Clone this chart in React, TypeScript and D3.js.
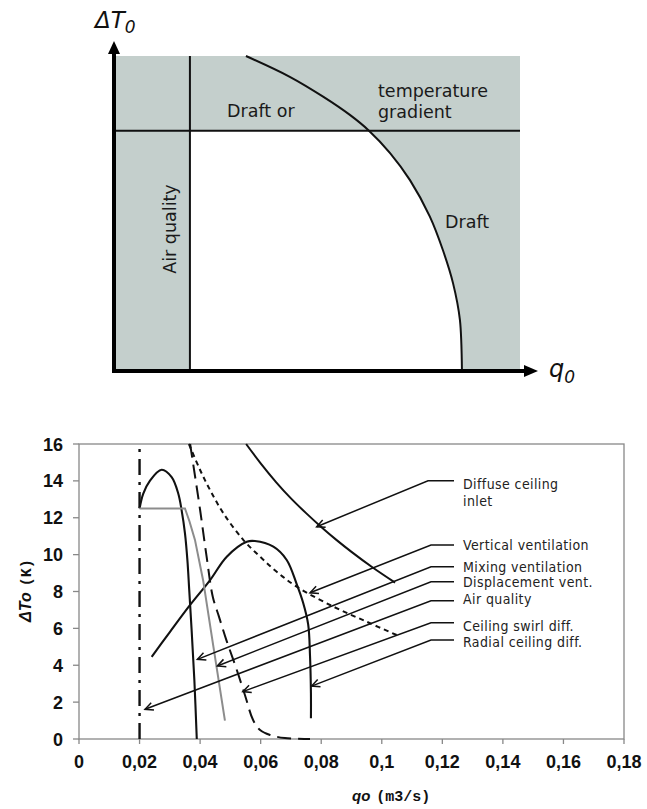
import React from "react";
import * as d3 from "d3";

// ---------- Top schematic (normalised units) ----------
const schemCurveQ = [0.325, 0.433, 0.515, 0.581, 0.628, 0.68, 0.729, 0.778, 0.81, 0.835, 0.852, 0.857];
const schemCurveT = [1.0, 0.934, 0.871, 0.813, 0.763, 0.692, 0.606, 0.49, 0.384, 0.279, 0.162, 0.0];
const schemAirQualityQ = 0.187;
const schemGradientT = 0.763;

// ---------- Bottom chart ----------
const xTicks = [0, 0.02, 0.04, 0.06, 0.08, 0.1, 0.12, 0.14, 0.16, 0.18];
const xTickLabels = ["0", "0,02", "0,04", "0,06", "0,08", "0,1", "0,12", "0,14", "0,16", "0,18"];
const yTicks = [0, 2, 4, 6, 8, 10, 12, 14, 16];

const airQualityQ = [0.02, 0.02];
const airQualityT = [0, 16];

const mixingQ = [0.02, 0.0212, 0.0234, 0.0273, 0.0306, 0.0328, 0.0339, 0.035, 0.0358, 0.0364, 0.0372, 0.0381, 0.0389];
const mixingT = [12.5, 13.3, 14.0, 14.6, 14.2, 13.3, 12.4, 11.15, 9.7, 8.1, 5.9, 3.2, 0];

const displacementQ = [0.02, 0.035, 0.0365, 0.0383, 0.041, 0.0444, 0.0482];
const displacementT = [12.5, 12.5, 11.8, 10.8, 8.6, 5.0, 1.0];

const swirlQ = [0.0367, 0.04, 0.0423, 0.0442, 0.0462, 0.0487, 0.0518, 0.0548, 0.0575, 0.0598, 0.0631, 0.068, 0.0763];
const swirlT = [16.0, 12.42, 9.71, 7.7, 6.65, 5.35, 3.9, 2.39, 1.03, 0.49, 0.22, 0.05, 0];

const verticalQ = [0.0363, 0.04, 0.0433, 0.0477, 0.0543, 0.0598, 0.0653, 0.0719, 0.084, 0.095, 0.1049];
const verticalT = [16.0, 14.59, 13.5, 12.24, 10.79, 9.89, 9.07, 8.26, 7.18, 6.36, 5.64];

const diffuseQ = [0.0552, 0.06, 0.065, 0.07, 0.075, 0.08, 0.085, 0.09, 0.097, 0.1044];
const diffuseT = [16.0, 14.95, 13.95, 13.05, 12.25, 11.5, 10.8, 10.15, 9.3, 8.48];

const radialQ = [0.024, 0.03, 0.0367, 0.0433, 0.0488, 0.0554, 0.0581, 0.0642, 0.0686, 0.0719, 0.074, 0.0757, 0.0763, 0.0766, 0.0766];
const radialT = [4.46, 5.8, 7.27, 8.62, 9.89, 10.7, 10.74, 10.43, 9.71, 8.4, 7.4, 6.2, 4.5, 2.5, 1.12];

// annotation labels and the (q, ΔT) points their arrows point at
const annotLabels = [
  ["Diffuse ceiling", "inlet"],
  ["Vertical ventilation"],
  ["Mixing ventilation"],
  ["Displacement vent."],
  ["Air quality"],
  ["Ceiling swirl diff."],
  ["Radial ceiling diff."],
];
const annotTargetQ = [0.0785, 0.0763, 0.0391, 0.0457, 0.0218, 0.0541, 0.0768];
const annotTargetT = [11.51, 7.93, 4.32, 3.96, 1.61, 2.57, 2.87];

// layout of the annotation column (pixels)
const annotElbowY = [480.7, 545, 566.7, 581.7, 600.7, 622.7, 640];
const annotTextY = [489.3, 550, 571.7, 587.3, 604, 631, 647.3];

const W = 647;
const H = 809;

function chevron(tip: [number, number], from: [number, number], len = 9, ang = 0.45) {
  const a = Math.atan2(from[1] - tip[1], from[0] - tip[0]);
  const p1 = [tip[0] + len * Math.cos(a + ang), tip[1] + len * Math.sin(a + ang)];
  const p2 = [tip[0] + len * Math.cos(a - ang), tip[1] + len * Math.sin(a - ang)];
  return `M${p1[0]},${p1[1]}L${tip[0]},${tip[1]}L${p2[0]},${p2[1]}`;
}

export default function App() {
  // top scales
  const tx = d3.scaleLinear().domain([0, 1]).range([114, 520]);
  const ty = d3.scaleLinear().domain([0, 1]).range([371, 56]);
  const schemLine = d3
    .line<number>()
    .x((_, i) => tx(schemCurveQ[i]))
    .y((_, i) => ty(schemCurveT[i]))
    .curve(d3.curveCatmullRom.alpha(0.5));
  const schemPath = schemLine(schemCurveQ) || "";
  const whitePath = schemPath + `L${tx(0)},${ty(0)}L${tx(0)},${ty(1)}Z`;

  // bottom scales
  const x = d3.scaleLinear().domain([0, 0.18]).range([79, 624]);
  const y = d3.scaleLinear().domain([0, 16]).range([739, 444]);
  const mk = (qs: number[], ts: number[], curve: any = d3.curveCatmullRom.alpha(0.5)) =>
    d3
      .line<number>()
      .x((_, i) => x(qs[i]))
      .y((_, i) => y(ts[i]))
      .curve(curve)(qs) || "";

  const sans = "'DejaVu Sans', Verdana, sans-serif";
  const cond = "'DejaVu Sans Condensed', 'DejaVu Sans', sans-serif";
  const arial = "'Liberation Sans', Arial, sans-serif";
  const mono = "'Liberation Mono', 'Courier New', monospace";
  const axisGrey = "#888888";

  return (
    <svg
      width={W}
      height={H}
      style={{ position: "absolute", left: 0, top: 0, background: "#fff", display: "block" }}
    >
      <defs>
        <clipPath id="whiteClip">
          <rect
            x={tx(schemAirQualityQ)}
            y={ty(schemGradientT)}
            width={tx(1) - tx(schemAirQualityQ)}
            height={ty(0) - ty(schemGradientT)}
          />
        </clipPath>
      </defs>

      {/* ===== Top schematic ===== */}
      <rect x={tx(0)} y={ty(1)} width={tx(1) - tx(0)} height={ty(0) - ty(1)} fill="#c4cfcc" />
      <path d={whitePath} fill="#fff" clipPath="url(#whiteClip)" />
      <line x1={tx(schemAirQualityQ)} x2={tx(schemAirQualityQ)} y1={ty(1)} y2={ty(0)} stroke="#111" strokeWidth={2} />
      <line x1={tx(0)} x2={tx(1)} y1={ty(schemGradientT)} y2={ty(schemGradientT)} stroke="#111" strokeWidth={2} />
      <path d={schemPath} fill="none" stroke="#111" strokeWidth={2} />
      {/* axes */}
      <line x1={tx(0)} x2={tx(0)} y1={ty(0) + 2} y2={52} stroke="#000" strokeWidth={4} />
      <path d={`M${tx(0) - 6},54L${tx(0)},41L${tx(0) + 6},54Z`} fill="#000" />
      <line x1={tx(0) - 2} x2={526} y1={ty(0)} y2={ty(0)} stroke="#000" strokeWidth={4} />
      <path d={`M524,${ty(0) - 6}L538,${ty(0)}L524,${ty(0) + 6}Z`} fill="#000" />
      <text x={95} y={28} fontFamily={sans} fontStyle="italic" fontSize={23} fill="#111">
        ΔT<tspan fontSize={17} dy={5}>0</tspan>
      </text>
      <text x={549} y={377} fontFamily={sans} fontStyle="italic" fontSize={24} fill="#111">
        q<tspan fontSize={17} dy={6}>0</tspan>
      </text>
      <g fontFamily={sans} fontSize={17.5} fill="#1a1a1a">
        <text x={227} y={117}>Draft or</text>
        <text x={378} y={97}>temperature</text>
        <text x={378} y={118}>gradient</text>
        <text x={445} y={228}>Draft</text>
        <text transform="translate(176,229) rotate(-90)" textAnchor="middle">
          Air quality
        </text>
      </g>

      {/* ===== Bottom chart ===== */}
      {/* frame */}
      <rect x={x(0)} y={y(16)} width={x(0.18) - x(0)} height={y(0) - y(16)} fill="none" stroke={axisGrey} strokeWidth={1.3} />
      {/* ticks */}
      {yTicks.map((t) => (
        <g key={"y" + t}>
          <line x1={x(0) - 6} x2={x(0)} y1={y(t)} y2={y(t)} stroke={axisGrey} strokeWidth={1.3} />
          <text x={63} y={y(t) + 6.5} textAnchor="end" fontFamily={arial} fontWeight="bold" fontSize={18} fill="#111">
            {t}
          </text>
        </g>
      ))}
      {xTicks.map((q, i) => (
        <g key={"x" + i}>
          <line x1={x(q)} x2={x(q)} y1={y(0)} y2={y(0) + 5} stroke={axisGrey} strokeWidth={1.3} />
          <text x={x(q)} y={768} textAnchor="middle" fontFamily={arial} fontWeight="bold" fontSize={18} fill="#111">
            {xTickLabels[i]}
          </text>
        </g>
      ))}
      {/* axis titles */}
      <text x={352} y={801} fill="#111">
        <tspan fontFamily={arial} fontWeight="bold" fontStyle="italic" fontSize={15}>qo</tspan>
        <tspan fontFamily={mono} fontWeight="bold" fontSize={15} dx={6}>(m3/s)</tspan>
      </text>
      <text transform="translate(31,622) rotate(-90)" fill="#111">
        <tspan fontFamily={arial} fontWeight="bold" fontStyle="italic" fontSize={16}>ΔTo</tspan>
        <tspan fontFamily={mono} fontWeight="bold" fontSize={15} dx={6}>(K)</tspan>
      </text>

      {/* curves */}
      <path d={mk(airQualityQ, airQualityT, d3.curveLinear)} fill="none" stroke="#111" strokeWidth={2.4} strokeDasharray="16,7,3,7" />
      <path d={mk(diffuseQ, diffuseT)} fill="none" stroke="#111" strokeWidth={2} />
      <path d={mk(verticalQ, verticalT)} fill="none" stroke="#111" strokeWidth={2} strokeDasharray="5,4" />
      <path d={mk(swirlQ, swirlT)} fill="none" stroke="#111" strokeWidth={2} strokeDasharray="14,7" />
      <path d={mk(radialQ, radialT)} fill="none" stroke="#111" strokeWidth={2.1} />
      <path d={mk(mixingQ, mixingT)} fill="none" stroke="#111" strokeWidth={2.1} />
      <path d={mk(displacementQ, displacementT, d3.curveLinear)} fill="none" stroke="#8c8c8c" strokeWidth={2} />

      {/* annotations */}
      {annotLabels.map((lines, i) => {
        const elbowX = i === 0 ? 428 : 431;
        const tip: [number, number] = [x(annotTargetQ[i]), y(annotTargetT[i])];
        const elbow: [number, number] = [elbowX, annotElbowY[i]];
        return (
          <g key={"a" + i}>
            <path
              d={`M454,${annotElbowY[i]}L${elbow[0]},${elbow[1]}L${tip[0]},${tip[1]}`}
              fill="none"
              stroke="#111"
              strokeWidth={1.5}
            />
            <path d={chevron(tip, elbow)} fill="none" stroke="#111" strokeWidth={1.5} />
            {lines.map((s, j) => (
              <text
                key={j}
                x={463}
                y={annotTextY[i] + j * 16.7}
                fontFamily={cond}
                fontSize={14}
                letterSpacing={0.4}
                fill="#222"
              >
                {s}
              </text>
            ))}
          </g>
        );
      })}
    </svg>
  );
}
